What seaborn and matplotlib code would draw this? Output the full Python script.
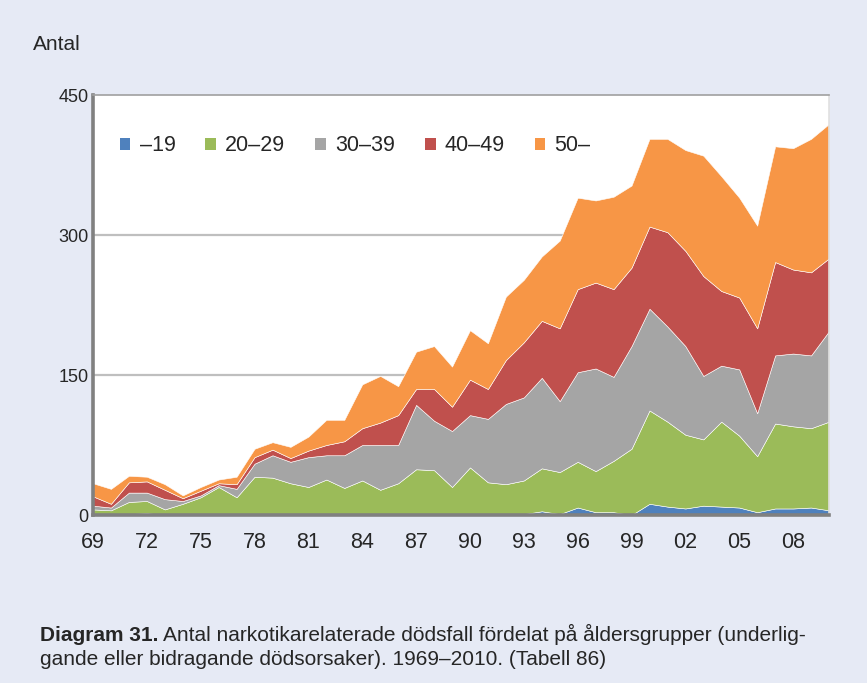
import numpy as np
import pandas as pd
import seaborn as sns
import matplotlib.pyplot as plt
from matplotlib.patches import Patch

# Data (deaths per age group, 1969-2010)
years = list(range(1969, 2011))
age_groups = ['–19', '20–29', '30–39', '40–49', '50–']

under_19 = [0, 0, 1, 2, 0, 0, 0, 1, 0, 1, 0, 0, 1, 0, 0, 0, 0, 0, 0, 0, 0,
            0, 0, 0, 1, 4, 1, 8, 3, 3, 0, 12, 9, 7, 10, 9, 8, 3, 7, 7, 8, 5]
age_20_29 = [6, 5, 13, 13, 6, 12, 19, 29, 19, 40, 40, 34, 29, 38, 29, 37, 27,
             34, 49, 48, 30, 51, 35, 33, 36, 46, 45, 49, 44, 55, 71, 100, 91,
             79, 71, 91, 77, 60, 91, 88, 85, 95]
age_30_39 = [4, 3, 10, 9, 11, 3, 2, 2, 9, 14, 24, 23, 32, 26, 35, 38, 48, 41,
             69, 53, 60, 56, 68, 86, 89, 97, 76, 96, 110, 90, 110, 109, 102,
             95, 68, 60, 71, 46, 73, 78, 78, 97]
age_40_49 = [10, 4, 11, 12, 10, 3, 5, 2, 5, 7, 6, 4, 7, 11, 15, 18, 24, 32,
             17, 34, 26, 38, 32, 47, 59, 61, 78, 89, 92, 94, 84, 88, 101, 102,
             107, 80, 77, 91, 100, 90, 89, 78]
age_50_plus = [14, 16, 7, 5, 6, 3, 4, 4, 8, 9, 8, 12, 15, 27, 23, 47, 50, 31,
               40, 46, 43, 53, 49, 68, 67, 69, 94, 98, 88, 99, 88, 94, 100,
               108, 129, 123, 107, 110, 124, 130, 143, 144]

colors = ['#4F81BD', '#9BBB59', '#A5A5A5', '#C0504D', '#F79646']
bg = '#E6EAF5'

df = pd.DataFrame({'År': years, '–19': under_19, '20–29': age_20_29,
                   '30–39': age_30_39, '40–49': age_40_49, '50–': age_50_plus})

sns.set_style('white')
plt.rcParams['font.family'] = ['Liberation Sans', 'DejaVu Sans']

fig = plt.figure(figsize=(8.67, 6.83), dpi=100, facecolor=bg)
ax = fig.add_axes([93 / 867, 1 - 515 / 683, 736 / 867, 420 / 683])
ax.set_facecolor('white')

ax.stackplot(df['År'], [df[g] for g in age_groups], colors=colors,
             edgecolor='white', linewidth=0.4)

# Grid lines at 150 and 300
for yv in [150, 300]:
    ax.axhline(yv, color='#BFBFBF', linewidth=1.6, zorder=0.5)

ax.set_xlim(1969, 2010)
ax.set_ylim(0, 450)
ax.set_yticks([0, 150, 300, 450])
ax.set_yticklabels(['0', '150', '300', '450'], fontsize=13)
ax.set_xticks(years, minor=True)
major = list(range(1969, 2011, 3))
ax.set_xticks(major)
ax.set_xticklabels([f'{y % 100:02d}' for y in major], fontsize=15.5)
ax.tick_params(axis='x', which='both', direction='out', length=6, width=1.6,
               color='#808080', pad=6)
ax.tick_params(axis='y', length=0, pad=3)

for side in ['left', 'bottom']:
    ax.spines[side].set_color('#808080')
    ax.spines[side].set_linewidth(2.6)
ax.spines['top'].set_color('#A0A0A0')
ax.spines['top'].set_linewidth(1.2)
ax.spines['right'].set_color('#E0E0E0')
ax.spines['right'].set_linewidth(1.2)

handles = [Patch(facecolor=c, edgecolor='none') for c in colors]
ax.legend(handles, age_groups, loc='upper left', bbox_to_anchor=(0.01, 0.95),
          ncol=5, frameon=False, fontsize=15.5, handlelength=0.5,
          handleheight=0.5, handletextpad=0.42, columnspacing=1.39)

fig.text(33 / 867, 1 - 45 / 683, 'Antal', fontsize=15, va='center', ha='left')

t = fig.text(40 / 867, 1 - 641 / 683, 'Diagram 31.', fontsize=15,
             fontweight='bold', va='baseline', ha='left')
ax.annotate('Antal narkotikarelaterade dödsfall fördelat på åldersgrupper (underlig-',
            xy=(1, 0), xycoords=t, xytext=(3, 0), textcoords='offset points',
            fontsize=15, va='bottom', ha='left', annotation_clip=False)
fig.text(40 / 867, 1 - 665 / 683,
         'gande eller bidragande dödsorsaker). 1969–2010. (Tabell 86)',
         fontsize=15, va='baseline', ha='left')

fig.savefig('out.png', dpi=100, facecolor=bg)
